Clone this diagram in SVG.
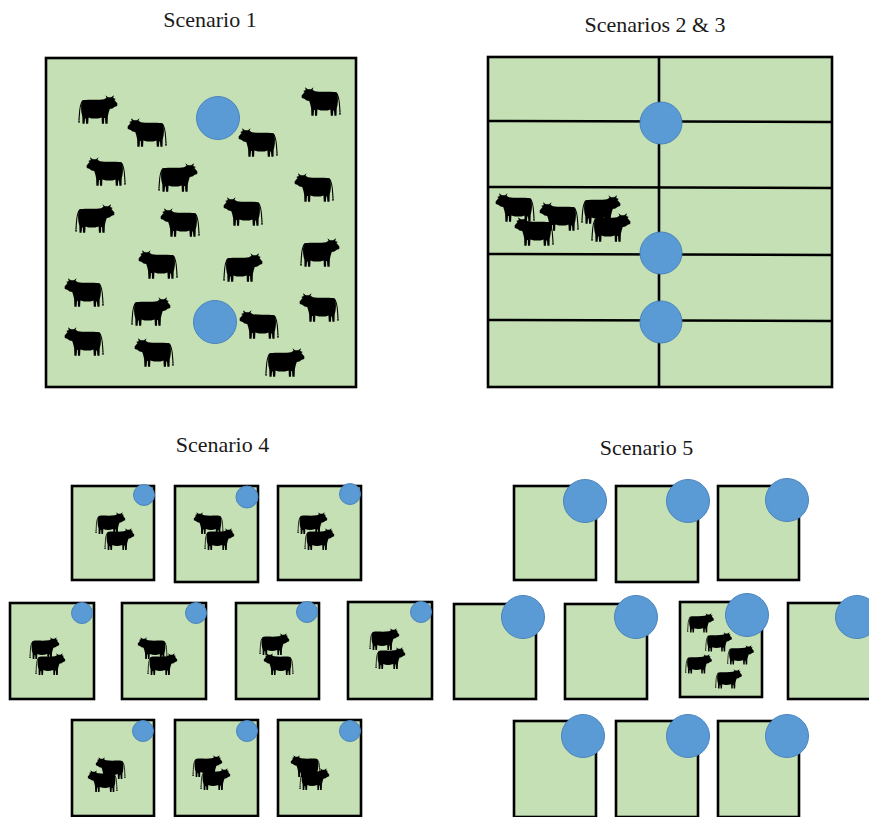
<svg xmlns="http://www.w3.org/2000/svg" xmlns:xlink="http://www.w3.org/1999/xlink" width="869" height="817" viewBox="0 0 869 817">
  <style>
    .title { font-family: "Liberation Serif", "Times New Roman", serif; font-size: 22px; fill: #1a1a1a; text-anchor: middle; }
    .field { fill: #C5E0B4; stroke: #000; stroke-width: 2.6; }
    .fence { stroke: #000; stroke-width: 2.6; fill: none; }
    .water { fill: #5B9BD5; stroke: #4A84BC; stroke-width: 1; }
  </style>
  <defs>
    <!-- cow silhouette facing right, 44 x 30 units -->
    <g id="cow">
      <path d="M7,5.5 C12,4 22,5.5 29,4.2 L31.5,2.8 L30.4,0.3 L33,2.2 L36.2,2.2 L39,0.3 L38.2,2.9 L40.8,4 L39.4,5 L42.4,8.5 L42.2,11 L39.8,11.8 L37.4,13.6 L34.8,14 L33.8,17 L32.9,21 L32.6,28.8 L30.4,28.8 L30,23 L29.2,23 L29,28.8 L26.9,28.8 L26.6,22.4 C22,24 17,24 13.6,22.4 L13.2,28.8 L11.1,28.8 L10.7,23.6 L10,23.6 L9.6,28.8 L7.5,28.8 L7.3,21.5 C5.8,17 5.6,10 7,5.5 Z" fill="#000"/>
      <path d="M7.2,6.5 C4.4,10 4.6,17 4,25" fill="none" stroke="#000" stroke-width="1.1"/>
      <path d="M4,24 L3,27.5 L5.1,27.5 Z" fill="#000"/>
    </g>
  </defs>

  <!-- titles -->
  <text class="title" x="210" y="27">Scenario 1</text>
  <text class="title" x="655" y="32">Scenarios 2 &amp; 3</text>
  <text class="title" x="222.5" y="452">Scenario 4</text>
  <text class="title" x="646.5" y="455">Scenario 5</text>

  <!-- Scenario 1: one open paddock -->
  <g id="scenario1">
    <rect class="field" x="46" y="58" width="310" height="329"/>
    <g id="herd1">
      <use xlink:href="#cow" transform="translate(75,95)"/>
      <use xlink:href="#cow" transform="translate(170,118) scale(-1,1)"/>
      <use xlink:href="#cow" transform="translate(281,128) scale(-1,1)"/>
      <use xlink:href="#cow" transform="translate(344,87) scale(-1,1)"/>
      <use xlink:href="#cow" transform="translate(129,157) scale(-1,1)"/>
      <use xlink:href="#cow" transform="translate(155,163)"/>
      <use xlink:href="#cow" transform="translate(337,173) scale(-1,1)"/>
      <use xlink:href="#cow" transform="translate(72,204)"/>
      <use xlink:href="#cow" transform="translate(203,208) scale(-1,1)"/>
      <use xlink:href="#cow" transform="translate(266,197) scale(-1,1)"/>
      <use xlink:href="#cow" transform="translate(297,238)"/>
      <use xlink:href="#cow" transform="translate(181,250) scale(-1,1)"/>
      <use xlink:href="#cow" transform="translate(220,253)"/>
      <use xlink:href="#cow" transform="translate(107,278) scale(-1,1)"/>
      <use xlink:href="#cow" transform="translate(128,297)"/>
      <use xlink:href="#cow" transform="translate(282,310) scale(-1,1)"/>
      <use xlink:href="#cow" transform="translate(342,293) scale(-1,1)"/>
      <use xlink:href="#cow" transform="translate(107,327) scale(-1,1)"/>
      <use xlink:href="#cow" transform="translate(177,338) scale(-1,1)"/>
      <use xlink:href="#cow" transform="translate(262,348)"/>
    </g>
    <circle class="water" cx="218" cy="118" r="21.5"/>
    <circle class="water" cx="215" cy="322" r="21.5"/>
  </g>

  <!-- Scenarios 2 & 3: paddocks along a central lane -->
  <g id="scenario23">
    <rect class="field" x="488" y="57" width="344" height="330"/>
    <g class="fence">
      <line x1="659" y1="57" x2="659" y2="387"/>
      <line x1="488" y1="121" x2="832" y2="122"/>
      <line x1="488" y1="187" x2="832" y2="188"/>
      <line x1="488" y1="254" x2="832" y2="255"/>
      <line x1="488" y1="320" x2="832" y2="321"/>
    </g>
    <g id="herd23">
      <use xlink:href="#cow" transform="translate(538,193) scale(-1,1)"/>
      <use xlink:href="#cow" transform="translate(578,195)"/>
      <use xlink:href="#cow" transform="translate(582,202) scale(-1,1)"/>
      <use xlink:href="#cow" transform="translate(557,217) scale(-1,1)"/>
      <use xlink:href="#cow" transform="translate(588,213)"/>
    </g>
    <circle class="water" cx="661" cy="123" r="21"/>
    <circle class="water" cx="661" cy="253" r="21"/>
    <circle class="water" cx="661" cy="322" r="21"/>
  </g>

  <!-- Scenario 4: small paddocks, two cows each -->
  <g id="scenario4">
    <g id="s4-r1c1">
      <rect class="field" x="72" y="486" width="82" height="94"/>
      <use xlink:href="#cow" transform="translate(93,512) scale(0.76)"/>
      <use xlink:href="#cow" transform="translate(102,528) scale(0.76)"/>
      <circle class="water" cx="144" cy="495" r="10.5"/>
    </g>
    <g id="s4-r1c2">
      <rect class="field" x="175" y="486" width="83" height="96"/>
      <use xlink:href="#cow" transform="translate(226,512) scale(-0.76,0.76)"/>
      <use xlink:href="#cow" transform="translate(202,528) scale(0.76)"/>
      <circle class="water" cx="247" cy="497" r="11"/>
    </g>
    <g id="s4-r1c3">
      <rect class="field" x="278" y="486" width="83" height="94"/>
      <use xlink:href="#cow" transform="translate(295,512) scale(0.76)"/>
      <use xlink:href="#cow" transform="translate(302,528) scale(0.76)"/>
      <circle class="water" cx="350" cy="494" r="10.5"/>
    </g>
    <g id="s4-r2c1">
      <rect class="field" x="10" y="603" width="84" height="96"/>
      <use xlink:href="#cow" transform="translate(27,637) scale(0.76)"/>
      <use xlink:href="#cow" transform="translate(33,653) scale(0.76)"/>
      <circle class="water" cx="82" cy="613" r="10.5"/>
    </g>
    <g id="s4-r2c2">
      <rect class="field" x="122" y="603" width="84" height="96"/>
      <use xlink:href="#cow" transform="translate(170,637) scale(-0.76,0.76)"/>
      <use xlink:href="#cow" transform="translate(145,653) scale(0.76)"/>
      <circle class="water" cx="196" cy="613" r="10.5"/>
    </g>
    <g id="s4-r2c3">
      <rect class="field" x="236" y="603" width="83" height="96"/>
      <use xlink:href="#cow" transform="translate(257,633) scale(0.76)"/>
      <use xlink:href="#cow" transform="translate(296,653) scale(-0.76,0.76)"/>
      <circle class="water" cx="307" cy="612" r="10.5"/>
    </g>
    <g id="s4-r2c4">
      <rect class="field" x="348" y="602" width="84" height="97"/>
      <use xlink:href="#cow" transform="translate(367,628) scale(0.76)"/>
      <use xlink:href="#cow" transform="translate(373,647) scale(0.76)"/>
      <circle class="water" cx="421" cy="612" r="10.5"/>
    </g>
    <g id="s4-r3c1">
      <rect class="field" x="72" y="720" width="82" height="96"/>
      <use xlink:href="#cow" transform="translate(128,757) scale(-0.76,0.76)"/>
      <use xlink:href="#cow" transform="translate(120,770) scale(-0.76,0.76)"/>
      <circle class="water" cx="143" cy="731" r="10.5"/>
    </g>
    <g id="s4-r3c2">
      <rect class="field" x="175" y="720" width="83" height="96"/>
      <use xlink:href="#cow" transform="translate(190,755) scale(0.76)"/>
      <use xlink:href="#cow" transform="translate(198,768) scale(0.76)"/>
      <circle class="water" cx="247" cy="731" r="10.5"/>
    </g>
    <g id="s4-r3c3">
      <rect class="field" x="278" y="720" width="83" height="96"/>
      <use xlink:href="#cow" transform="translate(323,755) scale(-0.76,0.76)"/>
      <use xlink:href="#cow" transform="translate(297,768) scale(0.76)"/>
      <circle class="water" cx="350" cy="731" r="10.5"/>
    </g>
  </g>

  <!-- Scenario 5: rotational paddocks, herd in one -->
  <g id="scenario5">
    <g id="s5-r1c1">
      <rect class="field" x="514" y="486" width="82" height="94"/>
      <circle class="water" cx="585" cy="501" r="21.5"/>
    </g>
    <g id="s5-r1c2">
      <rect class="field" x="616" y="486" width="82" height="96"/>
      <circle class="water" cx="688" cy="501" r="21.5"/>
    </g>
    <g id="s5-r1c3">
      <rect class="field" x="718" y="486" width="81" height="94"/>
      <circle class="water" cx="787" cy="500" r="21.5"/>
    </g>
    <g id="s5-r2c1">
      <rect class="field" x="454" y="604" width="82" height="95"/>
      <circle class="water" cx="523" cy="617" r="21.5"/>
    </g>
    <g id="s5-r2c2">
      <rect class="field" x="565" y="604" width="82" height="95"/>
      <circle class="water" cx="636" cy="617" r="21.5"/>
    </g>
    <g id="s5-r2c3">
      <rect class="field" x="680" y="602" width="82" height="95"/>
      <use xlink:href="#cow" transform="translate(685,613) scale(0.68)"/>
      <use xlink:href="#cow" transform="translate(703,632) scale(0.68)"/>
      <use xlink:href="#cow" transform="translate(725,645) scale(0.68)"/>
      <use xlink:href="#cow" transform="translate(683,654) scale(0.68)"/>
      <use xlink:href="#cow" transform="translate(713,669) scale(0.68)"/>
      <circle class="water" cx="747" cy="615" r="21.5"/>
    </g>
    <g id="s5-r2c4">
      <rect class="field" x="788" y="603" width="84" height="96"/>
      <circle class="water" cx="857" cy="617" r="21.5"/>
    </g>
    <g id="s5-r3c1">
      <rect class="field" x="514" y="721" width="82" height="96"/>
      <circle class="water" cx="583" cy="736" r="21.5"/>
    </g>
    <g id="s5-r3c2">
      <rect class="field" x="616" y="721" width="82" height="96"/>
      <circle class="water" cx="688" cy="736" r="21.5"/>
    </g>
    <g id="s5-r3c3">
      <rect class="field" x="718" y="721" width="81" height="96"/>
      <circle class="water" cx="787" cy="736" r="21.5"/>
    </g>
  </g>
</svg>
